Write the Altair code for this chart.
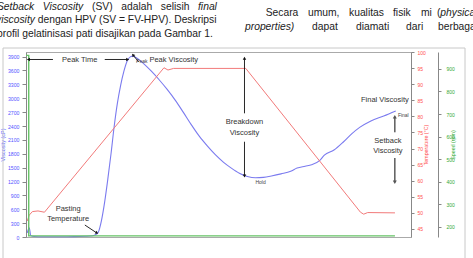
import altair as alt
import pandas as pd

FONT = "Liberation Sans"
BLUE_LINE = "#7b7bef"
BLUE_TXT = "#5555ff"
RED_LINE = "#f27a7a"
RED_TXT = "#ff4d4d"
GREEN_LINE = "#66c266"
GREEN_TXT = "#33aa33"

# ---------------- data ----------------
visc_time = [0.08, 0.2, 0.3, 0.5, 1, 2, 3, 4, 4.3, 4.5, 4.7, 4.9, 5.1, 5.3, 5.5, 5.7, 5.9, 6.1,
             6.3, 6.5, 6.65, 6.9, 7.3, 7.8, 8.3, 8.8, 9.3, 9.8, 10.3, 10.8, 11.3, 11.8, 12.3,
             12.8, 13.3, 13.8, 14.3, 14.8, 15.3, 15.9, 16.5, 16.9, 17.4, 17.8, 18.3, 18.6, 19.2,
             19.8, 20.3, 20.8, 21.5, 22.3, 23.05]
visc_cp = [90, 200, 30, 10, 5, 5, 8, 20, 45, 100, 350, 750, 1250, 1800, 2400, 2900, 3280, 3580,
           3800, 3895, 3910, 3870, 3760, 3590, 3400, 3190, 2960, 2700, 2430, 2180, 1970, 1780, 1620,
           1490, 1380, 1310, 1280, 1290, 1320, 1365, 1420, 1490, 1530, 1560, 1650, 1770, 1880,
           2060, 2230, 2370, 2510, 2616, 2725]

temp_time = [0.08, 0.2, 0.4, 0.75, 1.15, 8.6, 8.85, 9.2, 13.7, 20.85, 21.05, 21.3, 23.0]
temp_c = [47.5, 49.3, 50.4, 50.6, 50.2, 95.1, 94.4, 94.9, 94.9, 50.2, 49.6, 50.1, 50.0]

speed_time = [0.0, 0.17, 0.17, 23.0]
speed_rpm = [960, 960, 160, 160]

x_ticks = list(range(0, 25))
visc_ticks = list(range(0, 4000, 300))
temp_ticks = list(range(45, 101, 5))
speed_ticks = list(range(200, 901, 100))

ann_labels = ["Peak Time", "Peak Viscosity", "Breakdown", "Viscosity", "Final Viscosity",
              "Setback", "Viscosity", "Pasting", "Temperature"]
ann_t = [3.35, 9.21, 13.62, 13.62, 22.37, 22.56, 22.56, 2.63, 2.63]
ann_v = [3827, 3827, 2486, 2259, 2962, 2082, 1859, 599, 389]

small_labels = ["Peak", "Hold", "Final"]
small_t = [7.22, 14.62, 23.52]
small_v = [3805, 1183, 2638]

arrow_seg = ["pt1", "pt1", "pt2", "pt2", "bd1", "bd1", "bd2", "bd2", "pa", "pa", "pk", "pk"]
arrow_t = [0.15, 1.68, 4.91, 6.34, 13.62, 13.62, 13.62, 13.62, 3.67, 4.42, 7.03, 6.67]
arrow_v = [3838, 3838, 3838, 3838, 3863, 2674, 2060, 1319, 259, 86, 3784, 3935]

setback_seg = ["a", "a", "b", "b"]
setback_t = [22.99, 22.99, 22.99, 22.99]
setback_v = [2601, 2264, 1708, 1183]

head_t = [0.15, 6.34, 13.62, 13.62, 4.42, 6.67]
head_v = [3838, 3838, 3863, 1319, 86, 3935]
head_shape = ["triangle-left", "triangle-right", "triangle-up", "triangle-down", "triangle-right", "triangle-up"]
head_angle = [0, 0, 0, 0, 34, 321]

sb_head_t = [22.99, 22.99]
sb_head_v = [2601, 1183]
sb_head_shape = ["triangle-up", "triangle-down"]

# paragraph text above the figure (page coordinates)
para_words = ["Setback", "Viscosity", "(SV)", "adalah", "selisih", "final",
              "viscosity", "dengan HPV (SV = FV-HPV). Deskripsi",
              "profil gelatinisasi pati disajikan pada Gambar 1.",
              "Secara", "umum,", "kualitas", "fisik", "mi", "(", "physical",
              "properties)", "dapat", "diamati", "dari", "berbagai"]
para_x = [-3, 42.8, 92.0, 121.3, 160.8, 198.0,
          -4, 37.7,
          -3,
          265.7, 308, 349, 393, 421, 437, 440.3,
          245, 312, 356, 406, 438]
para_y = [9.5, 9.5, 9.5, 9.5, 9.5, 9.5,
          23, 23,
          36.5,
          16, 16, 16, 16, 16, 16, 16,
          29.5, 29.5, 29.5, 29.5, 29.5]
para_italic = [1, 1, 0, 0, 0, 1,
               1, 0,
               0,
               0, 0, 0, 0, 0, 0, 1,
               1, 0, 0, 0, 0]

# ---------------- layout ----------------
LEFT, TOP, W, H = 26, 52, 385, 185

visc_df = pd.DataFrame({"t": visc_time, "v": visc_cp})
temp_df = pd.DataFrame({"t": temp_time, "T": temp_c})
speed_df = pd.DataFrame({"t": speed_time, "rpm": speed_rpm})
ann_df = pd.DataFrame({"label": ann_labels, "t": ann_t, "v": ann_v})
small_df = pd.DataFrame({"label": small_labels, "t": small_t, "v": small_v})
arrow_df = pd.DataFrame({"seg": arrow_seg, "t": arrow_t, "v": arrow_v})
sb_df = pd.DataFrame({"seg": setback_seg, "t": setback_t, "v": setback_v})
head_df = pd.DataFrame({"t": head_t, "v": head_v, "shape": head_shape, "angle": head_angle})
sb_head_df = pd.DataFrame({"t": sb_head_t, "v": sb_head_v, "shape": sb_head_shape})
para_df = pd.DataFrame({"w": para_words, "px": [x - LEFT for x in para_x],
                        "py": [y - TOP for y in para_y], "it": para_italic})

xscale = alt.Scale(domain=[0, 24], nice=False, zero=False)
vscale = alt.Scale(domain=[0, 4000], nice=False, zero=False)

X_none = lambda f="t:Q": alt.X(f, scale=xscale, axis=None)
Yv_none = alt.Y("v:Q", scale=vscale, axis=None)

box = alt.Chart(pd.DataFrame({"k": [0]})).mark_rect(fill=None, stroke="#c8c8c8", strokeWidth=1).encode(
    x=alt.value(3 - LEFT), x2=alt.value(465 - LEFT), y=alt.value(48 - TOP), y2=alt.value(262 - TOP))

para_n = alt.Chart(para_df).transform_filter("datum.it == 0").mark_text(
    align="left", baseline="alphabetic", font=FONT, fontSize=10.3, color="#222").encode(
    x=alt.X("px:Q", scale=None, axis=None), y=alt.Y("py:Q", scale=None, axis=None), text="w:N")
para_i = alt.Chart(para_df).transform_filter("datum.it == 1").mark_text(
    align="left", baseline="alphabetic", font=FONT, fontSize=10.3, fontStyle="italic", color="#222").encode(
    x=alt.X("px:Q", scale=None, axis=None), y=alt.Y("py:Q", scale=None, axis=None), text="w:N")

visc_line = alt.Chart(visc_df).mark_line(color=BLUE_LINE, strokeWidth=1.1, interpolate="monotone").encode(
    x=alt.X("t:Q", scale=xscale,
            axis=alt.Axis(values=x_ticks, title="Time (Min)", labelFontSize=5.5, titleFontSize=5.5,
                          tickSize=3, labelPadding=2, titlePadding=2, labelColor="#555", titleColor="#555",
                          domainColor="#888", tickColor="#888", titleFontWeight="normal", labelFlush=False)),
    y=alt.Y("v:Q", scale=vscale,
            axis=alt.Axis(orient="left", values=visc_ticks, format="d", title="Viscosity (cP)",
                          labelColor=BLUE_TXT, titleColor=BLUE_TXT, labelFontSize=5.2, titleFontSize=5.5,
                          tickSize=4, labelPadding=3, titlePadding=2, domainColor="#888", tickColor="#888",
                          titleFontWeight="normal")))

temp_line = alt.Chart(temp_df).mark_line(color=RED_LINE, strokeWidth=1).encode(
    x=X_none(),
    y=alt.Y("T:Q", scale=alt.Scale(domain=[42.5, 100], nice=False, zero=False),
            axis=alt.Axis(orient="right", values=temp_ticks, title="Temperature (°C)", titleAngle=270,
                          labelColor=RED_TXT, titleColor=RED_TXT, labelFontSize=5, titleFontSize=5.3,
                          tickSize=3, labelPadding=3, titlePadding=3, domainColor="#888", tickColor="#888",
                          titleFontWeight="normal")))

speed_line = alt.Chart(speed_df).mark_line(color=GREEN_LINE, strokeWidth=1.4).encode(
    x=X_none(),
    y=alt.Y("rpm:Q", scale=alt.Scale(domain=[155, 975], nice=False, zero=False),
            axis=alt.Axis(orient="right", offset=27, values=speed_ticks, title="Speed (rpm)", titleAngle=270,
                          labelColor=GREEN_TXT, titleColor=GREEN_TXT, labelFontSize=5, titleFontSize=5.3,
                          tickSize=3, labelPadding=5, titlePadding=1, domainColor="#888", tickColor="#888",
                          titleFontWeight="normal")))

arrows = alt.Chart(arrow_df).mark_line(color="#111", strokeWidth=0.9).encode(
    x=X_none(), y=Yv_none, detail="seg:N")
sb_arrows = alt.Chart(sb_df).mark_line(color="#666", strokeWidth=1.6).encode(
    x=X_none(), y=Yv_none, detail="seg:N")
heads = alt.Chart(head_df).mark_point(filled=True, color="#111", size=12, opacity=1).encode(
    x=X_none(), y=Yv_none, shape=alt.Shape("shape:N", scale=None), angle=alt.Angle("angle:Q", scale=None))
sb_heads = alt.Chart(sb_head_df).mark_point(filled=True, color="#555", size=16, opacity=1).encode(
    x=X_none(), y=Yv_none, shape=alt.Shape("shape:N", scale=None))

ann_text = alt.Chart(ann_df).mark_text(font=FONT, fontSize=7.5, color="#333", align="center",
                                       baseline="middle").encode(x=X_none(), y=Yv_none, text="label:N")
small_text = alt.Chart(small_df).mark_text(font=FONT, fontSize=5, color="#444", align="center",
                                           baseline="middle").encode(x=X_none(), y=Yv_none, text="label:N")

chart = alt.layer(
    box, para_n, para_i, visc_line, temp_line, speed_line,
    arrows, sb_arrows, heads, sb_heads, ann_text, small_text
).resolve_scale(y="independent").properties(
    width=W, height=H,
    padding={"left": LEFT, "top": TOP, "right": 473 - LEFT - W, "bottom": 258 - TOP - H},
    autosize=alt.AutoSizeParams(type="none"),
    background="white",
).configure_view(stroke="#aaa", strokeWidth=1).configure_axis(
    grid=False, labelFont=FONT, titleFont=FONT)

chart.save("out.html", embed_options={"renderer": "svg", "actions": False})
